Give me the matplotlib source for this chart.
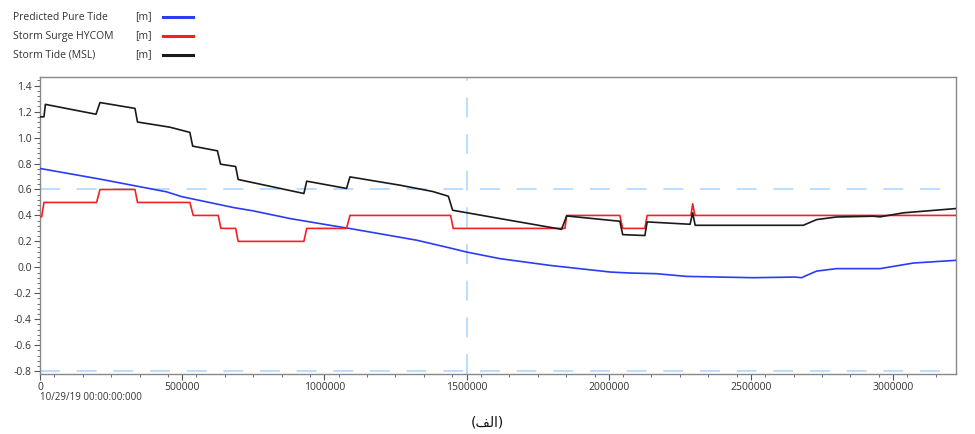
import matplotlib
matplotlib.use('Agg')
import matplotlib.pyplot as plt
from matplotlib.ticker import MultipleLocator
import numpy as np

plt.rcParams['font.family'] = ['Open Sans', 'DejaVu Sans']

# Storm tide (MSL) [m]
tide_x = [0, 0.014e6, 0.019e6, 0.197e6, 0.211e6, 0.334e6, 0.343e6, 0.457e6, 0.527e6,
          0.537e6, 0.624e6, 0.635e6, 0.688e6, 0.697e6, 0.928e6, 0.938e6, 1.078e6,
          1.09e6, 1.266e6, 1.38e6, 1.436e6, 1.451e6, 1.617e6, 1.834e6, 1.852e6,
          2.039e6, 2.049e6, 2.127e6, 2.135e6, 2.286e6, 2.295e6, 2.304e6, 2.684e6,
          2.731e6, 2.801e6, 2.93e6, 2.954e6, 3.036e6, 3.221e6]
tide_y = [1.16, 1.16, 1.256, 1.18, 1.27, 1.225, 1.12, 1.08, 1.04,
          0.934, 0.898, 0.795, 0.777, 0.677, 0.569, 0.664, 0.608,
          0.697, 0.633, 0.585, 0.548, 0.44, 0.376, 0.293, 0.396,
          0.355, 0.252, 0.245, 0.35, 0.332, 0.42, 0.324, 0.324,
          0.368, 0.388, 0.394, 0.389, 0.42, 0.453]

# Storm surge HYCOM [m]
surge_x = [0, 0.006e6, 0.014e6, 0.199e6, 0.211e6, 0.334e6, 0.343e6, 0.527e6, 0.539e6,
           0.627e6, 0.636e6, 0.688e6, 0.697e6, 0.928e6, 0.938e6, 1.078e6, 1.09e6,
           1.444e6, 1.453e6, 1.846e6, 1.852e6, 2.039e6, 2.049e6, 2.127e6, 2.135e6,
           2.289e6, 2.295e6, 2.303e6, 3.221e6]
surge_y = [0.39, 0.39, 0.5, 0.5, 0.6, 0.6, 0.5, 0.5, 0.4,
           0.4, 0.3, 0.3, 0.2, 0.2, 0.3, 0.3, 0.4,
           0.4, 0.3, 0.3, 0.4, 0.4, 0.3, 0.3, 0.4,
           0.4, 0.49, 0.4, 0.4]

# Predicted pure tide [m]
pure_x = [0, 0.211e6, 0.445e6, 0.498e6, 0.68e6, 0.75e6, 0.879e6, 1.02e6, 1.09e6,
          1.325e6, 1.442e6, 1.5e6, 1.617e6, 1.793e6, 2.004e6, 2.075e6, 2.168e6,
          2.274e6, 2.508e6, 2.655e6, 2.678e6, 2.696e6, 2.731e6, 2.801e6, 2.954e6,
          3.071e6, 3.221e6]
pure_y = [0.762, 0.68, 0.582, 0.545, 0.461, 0.435, 0.376, 0.324, 0.299,
          0.209, 0.149, 0.118, 0.067, 0.015, -0.036, -0.044, -0.049,
          -0.07, -0.08, -0.075, -0.08, -0.062, -0.029, -0.01, -0.01,
          0.033, 0.054]

x_ticks = [0, 500000, 1000000, 1500000, 2000000, 2500000, 3000000]
y_ticks = [-0.8, -0.6, -0.4, -0.2, 0.0, 0.2, 0.4, 0.6, 0.8, 1.0, 1.2, 1.4]

legend_names = ['Predicted Pure Tide', 'Storm Surge HYCOM', 'Storm Tide (MSL)']
legend_colors = ['#2a3cf5', '#f52020', '#1a1a1a']

fig = plt.figure(figsize=(9.75, 4.34), dpi=100)
ax = fig.add_axes([0.041, 0.138, 0.9395, 0.6846])

grid_kw = dict(color='#a9d3fa', lw=1.1, ls=(0, (13, 11)), zorder=1)
ax.axhline(0.6, **grid_kw)
ax.axhline(-0.8, **grid_kw)
ax.axvline(1.5e6, **grid_kw)

ax.plot(pure_x, pure_y, color=legend_colors[0], lw=1.2, zorder=3)
ax.plot(surge_x, surge_y, color=legend_colors[1], lw=1.2, zorder=3)
ax.plot(tide_x, tide_y, color=legend_colors[2], lw=1.2, zorder=4)

ax.set_xlim(0, 3.221e6)
ax.set_ylim(-0.823, 1.467)
ax.set_xticks(x_ticks)
ax.set_xticklabels([str(v) for v in x_ticks])
ax.xaxis.set_minor_locator(MultipleLocator(1e5, offset=5e4))
ax.set_yticks(y_ticks)
ax.set_yticklabels([f'{v:.1f}' for v in y_ticks])
ax.yaxis.set_minor_locator(MultipleLocator(0.04))
ax.tick_params(axis='both', which='major', length=4, width=0.8, color='#555555',
               labelsize=7.5, labelcolor='#333333', pad=2)
ax.tick_params(axis='both', which='minor', length=2.5, width=0.6, color='#555555')
for s in ax.spines.values():
    s.set_color('#888888')
    s.set_linewidth(1)

fig.text(40 / 975, 1 - 398 / 434, '10/29/19 00:00:00:000', fontsize=7, color='#333333',
         ha='left', va='center')

# legend block at top left
for i, (name, col) in enumerate(zip(legend_names, legend_colors)):
    yy = 1 - (17 + 19 * i) / 434
    fig.text(13 / 975, yy, name, fontsize=7.5, color='#333333', ha='left', va='center')
    fig.text(135 / 975, yy, '[m]', fontsize=7.5, color='#333333', ha='left', va='center')
    fig.add_artist(plt.Line2D([163 / 975, 193 / 975], [yy, yy], color=col, lw=2.2))

# caption "(الف)" written in visual order with presentation forms
fig.text(0.5, 1 - 422 / 434, '(\ufed2\ufedf\u0627)', fontsize=10, color='#111111',
         ha='center', va='center', family=['DejaVu Sans'])

fig.savefig('out.png', dpi=100)
